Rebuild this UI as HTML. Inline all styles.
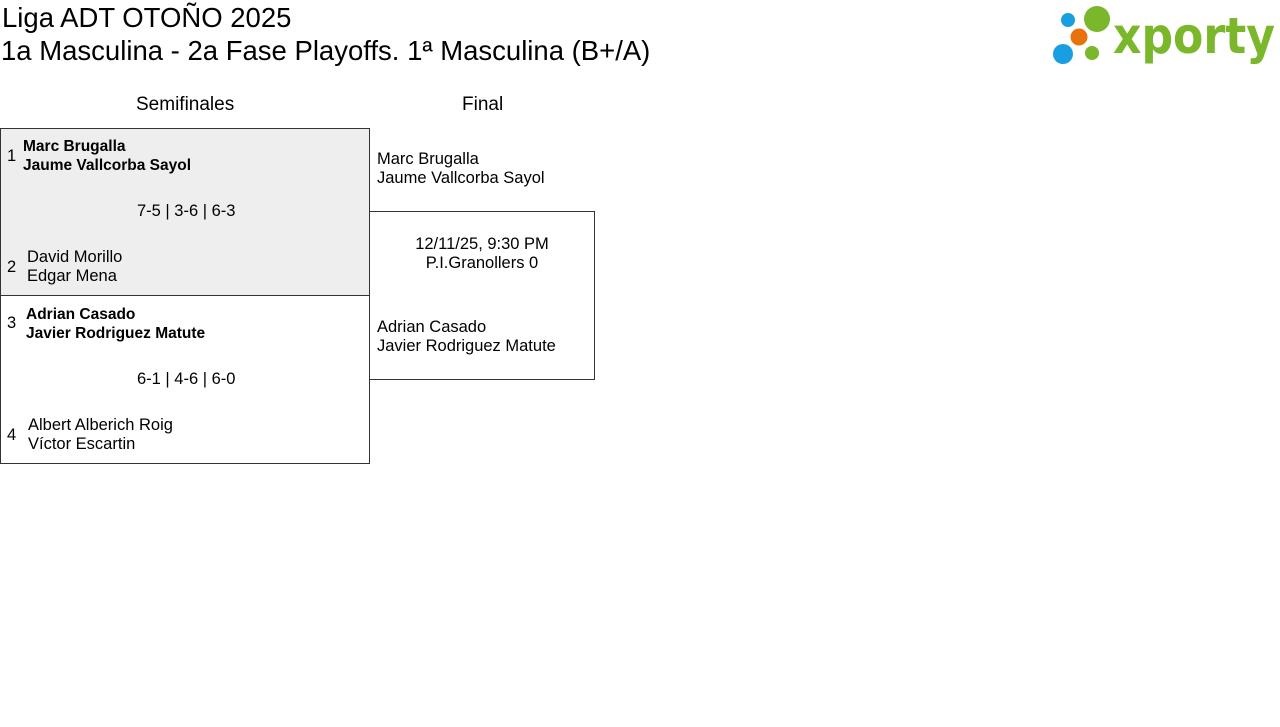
<!DOCTYPE html>
<html><head><meta charset="utf-8"><style>
body{margin:0;width:1280px;height:727px;background:#fff;font-family:"Liberation Sans",sans-serif;color:#000;position:relative;overflow:hidden}
.a{position:absolute;white-space:nowrap}
.t{font-size:27.5px;line-height:33px}
.h{font-size:19px}
.n{font-size:16.5px;line-height:19px}
.b{font-weight:bold;font-size:15.5px}
.box{position:absolute;border:1px solid #333;box-sizing:border-box}
</style></head><body>
<div class="a t" style="left:2px;top:1px">Liga ADT OTOÑO 2025</div>
<div class="a t" style="left:1px;top:34px">1a Masculina - 2a Fase Playoffs. 1ª Masculina (B+/A)</div>

<svg class="a" style="left:1050px;top:3px" width="228" height="64">
<circle cx="18" cy="17" r="7" fill="#1a9ee2"/>
<circle cx="29" cy="34" r="8.5" fill="#e8720c"/>
<circle cx="13" cy="51" r="10" fill="#1a9ee2"/>
<circle cx="47" cy="16" r="13" fill="#7ab72b"/>
<circle cx="42" cy="50" r="7" fill="#7ab72b"/>
<text x="63" y="50" font-family="DejaVu Sans" font-weight="bold" font-size="50" fill="#7ab72b" textLength="162" lengthAdjust="spacingAndGlyphs">xporty</text>
</svg>

<div class="a h" style="left:136px;top:94px">Semifinales</div>
<div class="a h" style="left:462px;top:94px">Final</div>

<div class="box" style="left:0;top:128px;width:370px;height:168px;background:#eee"></div>
<div class="box" style="left:0;top:295px;width:370px;height:169px"></div>
<div class="box" style="left:369px;top:211px;width:226px;height:169px"></div>

<div class="a n" style="left:7px;top:147px">1</div>
<div class="a n b" style="left:23px;top:137px">Marc Brugalla<br>Jaume Vallcorba Sayol</div>
<div class="a n" style="left:137px;top:202px">7-5 | 3-6 | 6-3</div>
<div class="a n" style="left:7px;top:258px">2</div>
<div class="a n" style="left:27px;top:248px">David Morillo<br>Edgar Mena</div>

<div class="a n" style="left:7px;top:314px">3</div>
<div class="a n b" style="left:26px;top:305px">Adrian Casado<br>Javier Rodriguez Matute</div>
<div class="a n" style="left:137px;top:370px">6-1 | 4-6 | 6-0</div>
<div class="a n" style="left:7px;top:426px">4</div>
<div class="a n" style="left:28px;top:416px">Albert Alberich Roig<br>Víctor Escartin</div>

<div class="a n" style="left:377px;top:150px">Marc Brugalla<br>Jaume Vallcorba Sayol</div>
<div class="a n" style="left:369px;width:226px;top:235px;text-align:center">12/11/25, 9:30 PM<br>P.I.Granollers 0</div>
<div class="a n" style="left:377px;top:318px">Adrian Casado<br>Javier Rodriguez Matute</div>
</body></html>
